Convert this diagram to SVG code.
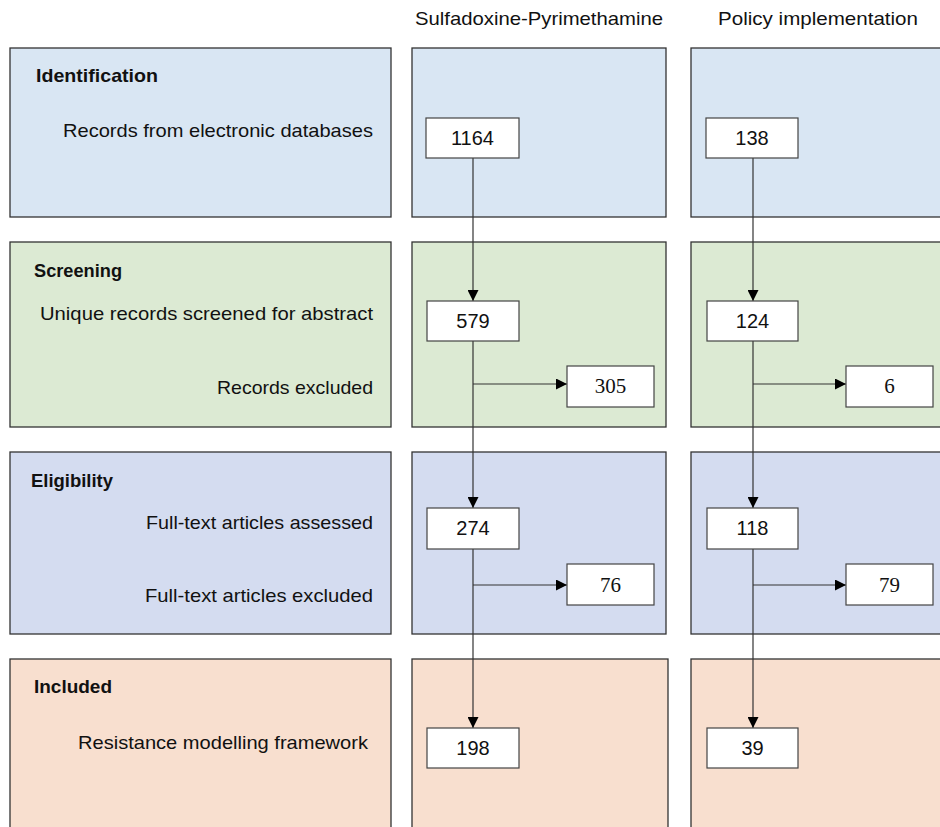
<svg xmlns="http://www.w3.org/2000/svg" width="940" height="827" viewBox="0 0 940 827">
<defs>
<marker id="ah" viewBox="0 0 10 10" refX="10" refY="5" markerWidth="11" markerHeight="11" markerUnits="userSpaceOnUse" orient="auto">
<path d="M0,0 L10,5 L0,10 z" fill="#000"/>
</marker>
</defs>
<style>
.stage{stroke:#333;stroke-width:1.3}
.s1{fill:#d9e6f3}.s2{fill:#dcead3}.s3{fill:#d4dcf0}.s4{fill:#f8dfcf}
.node{fill:#fff;stroke:#444;stroke-width:1.2}
.t{font-family:"Liberation Sans",Arial,sans-serif;font-size:18.5px;fill:#111}
.b{font-weight:bold}
.num{font-family:"Liberation Sans",Arial,sans-serif;font-size:20px;fill:#111;text-anchor:middle}
.snum{font-family:"Liberation Serif","Times New Roman",serif;font-size:21px;fill:#111;text-anchor:middle}
.hdr{font-family:"Liberation Sans",Arial,sans-serif;font-size:18.5px;fill:#111;text-anchor:middle}
.c{stroke:#333;stroke-width:1.2;fill:none}
</style>
<rect width="940" height="827" fill="#fff"/>
<g id="headers">
<text class="hdr" x="539" y="25" textLength="248" lengthAdjust="spacingAndGlyphs">Sulfadoxine-Pyrimethamine</text>
<text class="hdr" x="818" y="25" textLength="200" lengthAdjust="spacingAndGlyphs">Policy implementation</text>
</g>
<g id="stage-identification">
<rect class="stage s1" x="10" y="48" width="381" height="169"/>
<rect class="stage s1" x="412" y="48" width="254" height="169"/>
<rect class="stage s1" x="691" y="48" width="260" height="169"/>
<text class="t b" x="36" y="82" textLength="122" lengthAdjust="spacingAndGlyphs">Identification</text>
<text class="t" x="63" y="137" textLength="310" lengthAdjust="spacingAndGlyphs">Records from electronic databases</text>
</g>
<g id="stage-screening">
<rect class="stage s2" x="10" y="242" width="381" height="185"/>
<rect class="stage s2" x="412" y="242" width="254" height="185"/>
<rect class="stage s2" x="691" y="242" width="260" height="185"/>
<text class="t b" x="34" y="277" textLength="88" lengthAdjust="spacingAndGlyphs">Screening</text>
<text class="t" x="40" y="320" textLength="333" lengthAdjust="spacingAndGlyphs">Unique records screened for abstract</text>
<text class="t" x="217" y="394" textLength="156" lengthAdjust="spacingAndGlyphs">Records excluded</text>
</g>
<g id="stage-eligibility">
<rect class="stage s3" x="10" y="452" width="381" height="182"/>
<rect class="stage s3" x="412" y="452" width="254" height="182"/>
<rect class="stage s3" x="691" y="452" width="260" height="182"/>
<text class="t b" x="31" y="487" textLength="82" lengthAdjust="spacingAndGlyphs">Eligibility</text>
<text class="t" x="146" y="529" textLength="227" lengthAdjust="spacingAndGlyphs">Full-text articles assessed</text>
<text class="t" x="145" y="602" textLength="228" lengthAdjust="spacingAndGlyphs">Full-text articles excluded</text>
</g>
<g id="stage-included">
<rect class="stage s4" x="10" y="659" width="381" height="185"/>
<rect class="stage s4" x="412" y="659" width="256" height="185"/>
<rect class="stage s4" x="691" y="659" width="260" height="185"/>
<text class="t b" x="34" y="693" textLength="78" lengthAdjust="spacingAndGlyphs">Included</text>
<text class="t" x="78" y="749" textLength="290" lengthAdjust="spacingAndGlyphs">Resistance modelling framework</text>
</g>
<g id="connectors">
<line class="c" x1="473" y1="158" x2="473" y2="301" marker-end="url(#ah)"/>
<line class="c" x1="473" y1="341" x2="473" y2="508" marker-end="url(#ah)"/>
<line class="c" x1="473" y1="549" x2="473" y2="728" marker-end="url(#ah)"/>
<line class="c" x1="473" y1="384" x2="567" y2="384" marker-end="url(#ah)"/>
<line class="c" x1="473" y1="585" x2="567" y2="585" marker-end="url(#ah)"/>
<line class="c" x1="753" y1="158" x2="753" y2="301" marker-end="url(#ah)"/>
<line class="c" x1="753" y1="341" x2="753" y2="508" marker-end="url(#ah)"/>
<line class="c" x1="753" y1="549" x2="753" y2="728" marker-end="url(#ah)"/>
<line class="c" x1="753" y1="384" x2="846" y2="384" marker-end="url(#ah)"/>
<line class="c" x1="753" y1="585" x2="846" y2="585" marker-end="url(#ah)"/>
</g>
<g id="n1164"><rect class="node" x="426" y="118" width="93" height="40"/><text class="num" x="472.5" y="145">1164</text></g>
<g id="n138"><rect class="node" x="706" y="118" width="92" height="40"/><text class="num" x="752" y="145">138</text></g>
<g id="n579"><rect class="node" x="427" y="301" width="92" height="40"/><text class="num" x="473" y="328">579</text></g>
<g id="n124"><rect class="node" x="707" y="301" width="91" height="40"/><text class="num" x="752.5" y="328">124</text></g>
<g id="n305"><rect class="node" x="567" y="366" width="87" height="41"/><text class="snum" x="610.5" y="393">305</text></g>
<g id="n6"><rect class="node" x="846" y="366" width="87" height="41"/><text class="snum" x="889.5" y="393">6</text></g>
<g id="n274"><rect class="node" x="427" y="508" width="92" height="41"/><text class="num" x="473" y="535">274</text></g>
<g id="n118"><rect class="node" x="707" y="508" width="91" height="41"/><text class="num" x="752.5" y="535">118</text></g>
<g id="n76"><rect class="node" x="567" y="564" width="87" height="41"/><text class="snum" x="610.5" y="592">76</text></g>
<g id="n79"><rect class="node" x="846" y="564" width="87" height="41"/><text class="snum" x="889.5" y="592">79</text></g>
<g id="n198"><rect class="node" x="427" y="728" width="92" height="40"/><text class="num" x="473" y="755">198</text></g>
<g id="n39"><rect class="node" x="707" y="728" width="91" height="40"/><text class="num" x="752.5" y="755">39</text></g>
</svg>
